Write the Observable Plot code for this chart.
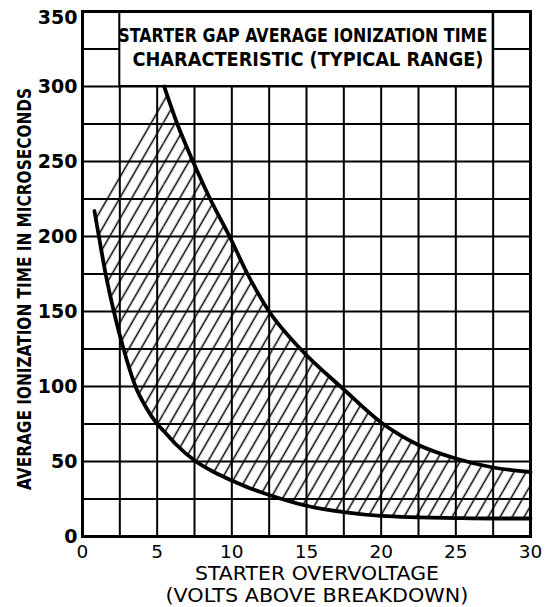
<!DOCTYPE html>
<html>
<head>
<meta charset="utf-8">
<script src="https://cdn.jsdelivr.net/npm/d3@7"></script>
<script src="https://cdn.jsdelivr.net/npm/@observablehq/plot@0.6"></script>
<style>
  html, body { margin: 0; padding: 0; background: #fff; }
  #chart svg { display: block; }
</style>
</head>
<body>
<div id="chart"></div>
<script>
// ---- data ----
// lower curve (fast end of typical range)
const lowerX = [0.8, 1.1, 1.55, 2.1, 2.75, 3.55, 4.2, 5, 5.47, 6.2, 7.6, 8.8, 10, 11.25, 12.5, 15, 17.5, 20, 22.5, 25, 27.5, 30];
const lowerY = [217, 200, 175, 150, 125, 100, 87, 75, 70, 62, 50, 43, 37.3, 32, 27.7, 20.5, 16.3, 13.7, 12.8, 12.3, 12, 12];
// upper curve (slow end of typical range)
const upperX = [5.47, 6.35, 7.4, 8.5, 9.85, 11.05, 12.5, 14.6, 17.5, 20, 22.5, 25, 27.5, 30];
const upperY = [300, 275, 250, 226, 200, 175, 150, 125, 98, 76, 61, 52, 46, 43];
// left edge of the hatching (not stroked): from curve start up to the top of the upper curve
const hatchEdgeX = [0.8, 5.47];
const hatchEdgeY = [217, 300];

const xTicks = [0, 5, 10, 15, 20, 25, 30];
const yTicks = [0, 50, 100, 150, 200, 250, 300];
const yTopTick = [350];
const xGrid = [2.5, 5, 7.5, 10, 12.5, 15, 17.5, 20, 22.5, 25, 27.5];
const yGrid = [25, 50, 75, 100, 125, 150, 175, 200, 225, 250, 275, 300, 325];

const titleLines = ["STARTER GAP AVERAGE IONIZATION TIME", "CHARACTERISTIC (TYPICAL RANGE)"];
const xLabelLines = ["STARTER OVERVOLTAGE", "(VOLTS ABOVE BREAKDOWN)"];
const yLabel = "AVERAGE IONIZATION TIME IN MICROSECONDS";

// ---- tables for the marks ----
const lower = lowerX.map((x, i) => ({x, y: lowerY[i]}));
const upper = upperX.map((x, i) => ({x, y: upperY[i]}));
// hatch region: left part bounded by the lower curve and the straight hatch edge,
// right part bounded by the lower and upper curves (lower values taken at the upper curve's x)
const edgeAt = x => hatchEdgeY[0] + (x - hatchEdgeX[0]) * (hatchEdgeY[1] - hatchEdgeY[0]) / (hatchEdgeX[1] - hatchEdgeX[0]);
const bandLeft = lower.filter(d => d.x <= hatchEdgeX[1]).map(d => ({x: d.x, lo: d.y, hi: edgeAt(d.x)}));
const lowerAt = d3.scaleLinear().domain(lowerX).range(lowerY);
const bandRight = upper.map(d => ({x: d.x, lo: lowerAt(d.x), hi: d.y}));

const font = "'DejaVu Sans', sans-serif";

const chart = Plot.plot({
  width: 555,
  height: 607,
  marginLeft: 82,
  marginRight: 25,
  marginTop: 11,
  marginBottom: 71,
  x: {domain: [0, 30]},
  y: {domain: [0, 350]},
  style: {background: "white", color: "black", fontFamily: font},
  marks: [
    // hatched band
    Plot.areaY(bandLeft, {x: "x", y1: "lo", y2: "hi", fill: "url(#hatch)", curve: "monotone-x"}),
    Plot.areaY(bandRight, {x: "x", y1: "lo", y2: "hi", fill: "url(#hatch)", curve: "monotone-x"}),
    // grid
    Plot.ruleX(xGrid, {stroke: "black", strokeWidth: 2}),
    Plot.ruleY(yGrid, {stroke: "black", strokeWidth: 2}),
    // title box
    Plot.rect([0], {x1: 2.5, x2: 27.5, y1: 300, y2: 350, fill: "white", stroke: "black", strokeWidth: 2}),
    Plot.text(titleLines, {x: (d, i) => [14.75, 15.1][i], y: (d, i) => [333.5, 317.5][i], text: d => d,
      fontSize: 19, fontWeight: "bold", fontFamily: font, textAnchor: "middle"}),
    // curves
    Plot.line(lower, {x: "x", y: "y", stroke: "black", strokeWidth: 3.8, curve: "monotone-x"}),
    Plot.line(upper, {x: "x", y: "y", stroke: "black", strokeWidth: 3.8, curve: "monotone-x"}),
    // frame
    Plot.frame({stroke: "black", strokeWidth: 3}),
    // axes
    Plot.axisX(xTicks, {tickSize: 0, tickPadding: 8, fontSize: 18.5, label: null}),
    Plot.axisY(yTicks, {tickSize: 0, tickPadding: 5, fontSize: 19, fontWeight: "bold", label: null}),
    Plot.axisY(yTopTick, {tickSize: 0, tickPadding: 5, fontSize: 19, fontWeight: "bold", label: null, dy: 6}),
    Plot.text(xLabelLines, {x: 15.7, y: (d, i) => [-25, -39.8][i], text: d => d,
      fontSize: 19.5, textAnchor: "middle"}),
    Plot.text([yLabel], {x: -3.9, y: 165, text: d => d, rotate: -90,
      fontSize: 20, fontWeight: "bold", fontFamily: font, textAnchor: "middle"})
  ]
});

// condensed lettering widths as measured in the reference
const textWidths = new Map([
  [titleLines[0], 369], [titleLines[1], 351],
  [xLabelLines[0], 244], [xLabelLines[1], 303],
  [yLabel, 402]
]);
d3.select(chart).selectAll("text").each(function () {
  const w = textWidths.get(this.textContent);
  if (w) d3.select(this).attr("textLength", w).attr("lengthAdjust", "spacingAndGlyphs");
});

// hatch pattern definition
const defs = d3.select(chart).insert("defs", ":first-child");
const pat = defs.append("pattern")
  .attr("id", "hatch")
  .attr("patternUnits", "userSpaceOnUse")
  .attr("width", 10.4)
  .attr("height", 10)
  .attr("patternTransform", "rotate(30)");
pat.append("line")
  .attr("x1", 5.2).attr("y1", -1).attr("x2", 5.2).attr("y2", 11)
  .attr("stroke", "black").attr("stroke-width", 1.5);

document.getElementById("chart").appendChild(chart);
</script>
</body>
</html>
